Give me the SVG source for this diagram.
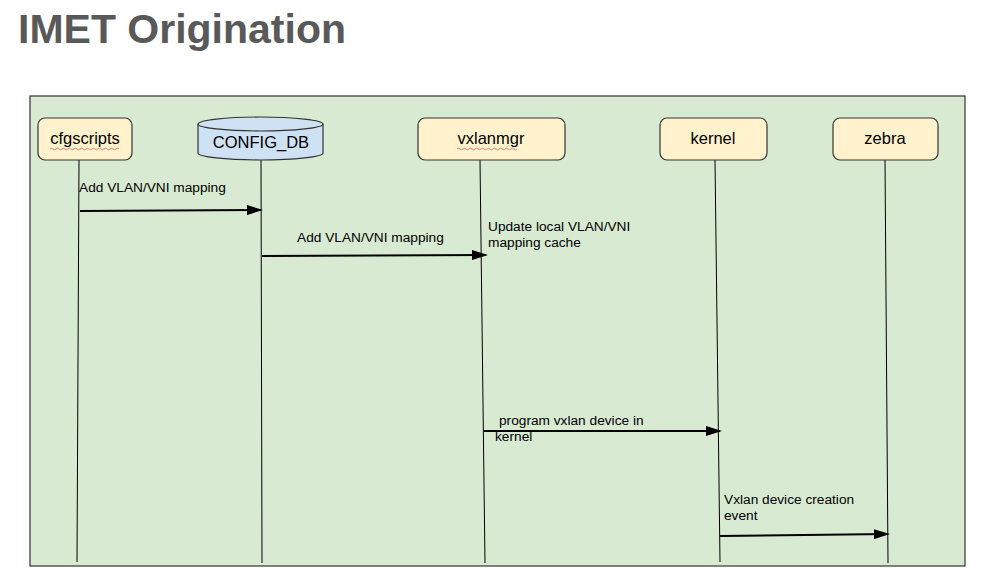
<svg xmlns="http://www.w3.org/2000/svg" width="990" height="588" viewBox="0 0 990 588">
<style>
.title{font-family:"Liberation Sans",Arial,sans-serif;font-weight:bold;font-size:41px;fill:#595959}
.node{fill:#fff2cc;stroke:#333;stroke-width:1.2}
.db{fill:#cfe2f3;stroke:#333;stroke-width:1.2}
.nl{font-family:"Liberation Sans",Arial,sans-serif;font-size:16.5px;fill:#000;text-anchor:middle}
.lbl{font-family:"Liberation Sans",Arial,sans-serif;font-size:13.7px;fill:#000}
.life{stroke:#000;stroke-width:1;fill:none}
.msg{stroke:#000;stroke-width:2;fill:none;marker-end:url(#ah)}
.sq{stroke:#e06666;stroke-width:0.8;fill:none}
</style>
<defs>
<marker id="ah" markerWidth="16" markerHeight="10" refX="14" refY="5" orient="auto" markerUnits="userSpaceOnUse">
<path d="M0,0 L16,5 L0,10 Z" fill="#000"/>
</marker>
</defs>
<rect width="990" height="588" fill="#fff"/>
<text class="title" x="18" y="43">IMET Origination</text>
<rect id="frame" x="30" y="96" width="935" height="470" fill="#d9ead3" stroke="#333" stroke-width="1.2"/>
<g id="lifelines">
<line class="life" x1="79" y1="160" x2="77" y2="562"/>
<line class="life" x1="261" y1="160" x2="262" y2="563"/>
<line class="life" x1="480" y1="160" x2="485" y2="563"/>
<line class="life" x1="715" y1="160" x2="720" y2="562"/>
<line class="life" x1="885" y1="160" x2="888" y2="563"/>
</g>
<g id="cfgscripts">
<rect class="node" x="38" y="118" width="94" height="42" rx="7"/>
<text class="nl" x="85" y="144">cfgscripts</text>
<path class="sq" d="M50,149 q1.5,-1.5 3,0 t3,0 t3,0 t3,0 t3,0 t3,0 t3,0 t3,0 t3,0 t3,0 t3,0 t3,0 t3,0 t3,0 t3,0 t3,0 t3,0 t3,0 t3,0 t3,0 t3,0 t3,0 t3,0"/>
</g>
<g id="config_db">
<path class="db" d="M198,124 L198,153 A62.5,7 0 0 0 323,153 L323,124 A62.5,7 0 0 0 198,124 Z"/>
<path class="db" fill="none" d="M198,124 A62.5,7 0 0 0 323,124"/>
<text class="nl" x="261" y="148">CONFIG_DB</text>
</g>
<g id="vxlanmgr">
<rect class="node" x="418" y="118" width="147" height="42" rx="7"/>
<text class="nl" x="491" y="144">vxlanmgr</text>
<path class="sq" d="M457,149 q1.5,-1.5 3,0 t3,0 t3,0 t3,0 t3,0 t3,0 t3,0 t3,0 t3,0 t3,0 t3,0 t3,0 t3,0 t3,0 t3,0 t3,0 t3,0 t3,0 t3,0 t3,0"/>
</g>
<g id="kernel">
<rect class="node" x="660" y="118" width="107" height="42" rx="7"/>
<text class="nl" x="713" y="144">kernel</text>
</g>
<g id="zebra">
<rect class="node" x="833" y="118" width="105" height="42" rx="7"/>
<text class="nl" x="885" y="144">zebra</text>
</g>
<g id="connectors">
<line class="msg" x1="80" y1="211" x2="261" y2="210"/>
<text class="lbl" x="79" y="192">Add VLAN/VNI mapping</text>
<line class="msg" x1="262" y1="256" x2="486" y2="255"/>
<text class="lbl" x="297" y="242">Add VLAN/VNI mapping</text>
<text class="lbl" x="488" y="231">Update local VLAN/VNI</text>
<text class="lbl" x="488" y="247">mapping cache</text>
<line class="msg" x1="484" y1="431" x2="720" y2="431"/>
<text class="lbl" x="499" y="425">program vxlan device in</text>
<text class="lbl" x="495" y="441">kernel</text>
<line class="msg" x1="720" y1="536" x2="888" y2="534"/>
<text class="lbl" x="724" y="504">Vxlan device creation</text>
<text class="lbl" x="724" y="520">event</text>
</g>
</svg>
